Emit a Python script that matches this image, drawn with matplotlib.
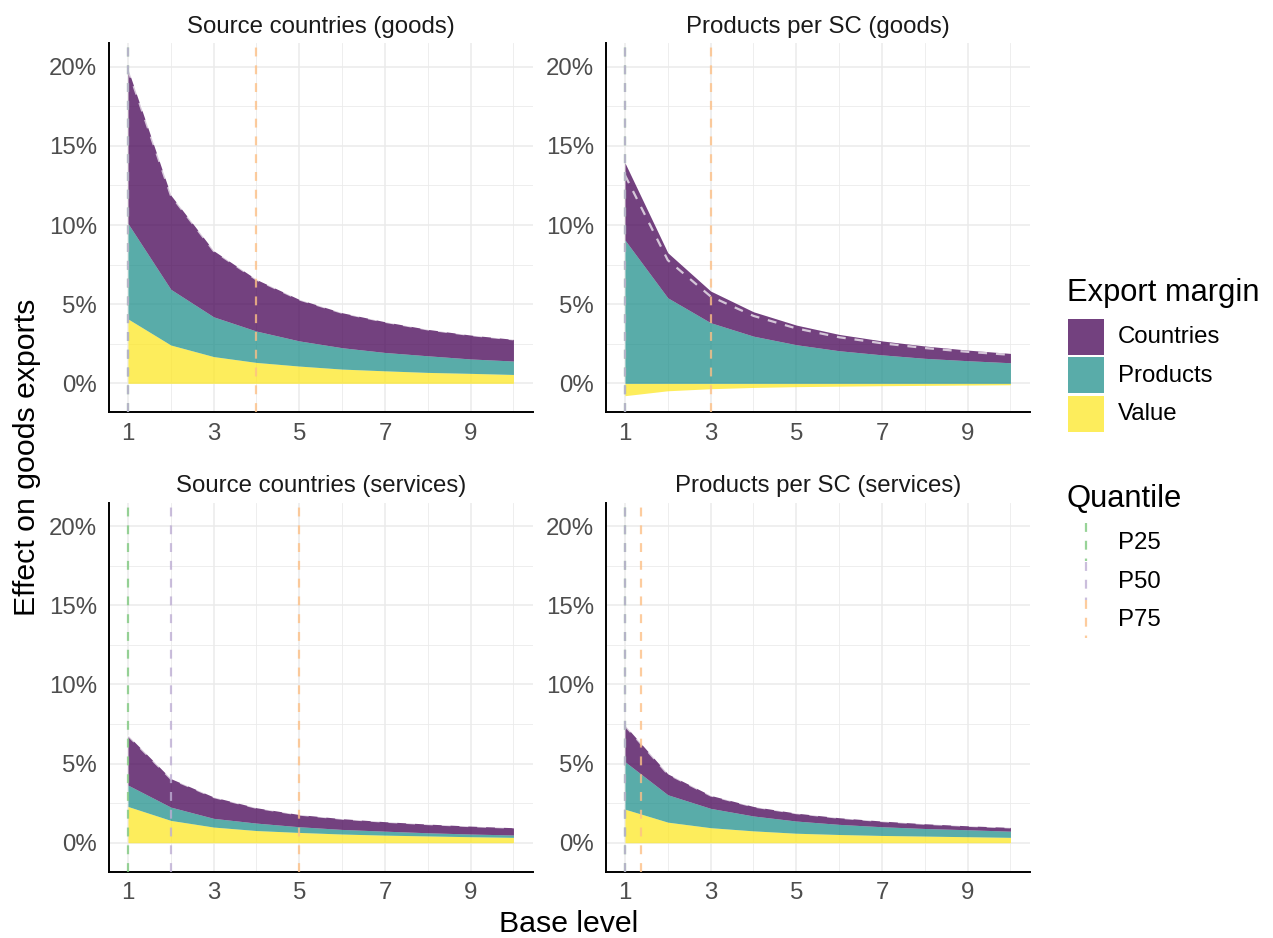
import numpy as np
import matplotlib
matplotlib.use("Agg")
import matplotlib.pyplot as plt
from matplotlib.patches import Rectangle
from matplotlib.lines import Line2D

plt.rcParams['font.family'] = ['Liberation Sans', 'DejaVu Sans']

# ---------------- data ----------------
base_level = [1, 2, 3, 4, 5, 6, 7, 8, 9, 10]

panel_titles = ["Source countries (goods)", "Products per SC (goods)",
                "Source countries (services)", "Products per SC (services)"]

# contributions (in %) of each export margin
value_sc_goods = [4.07, 2.42, 1.69, 1.32, 1.09, 0.90, 0.79, 0.69, 0.63, 0.56]
products_sc_goods = [6.03, 3.52, 2.51, 1.98, 1.59, 1.35, 1.16, 1.05, 0.91, 0.85]
countries_sc_goods = [9.74, 5.95, 4.18, 3.26, 2.62, 2.21, 1.94, 1.67, 1.51, 1.37]

value_pp_goods = [-0.78, -0.47, -0.34, -0.26, -0.21, -0.18, -0.15, -0.13, -0.11, -0.09]
products_pp_goods = [9.05, 5.40, 3.83, 2.98, 2.44, 2.06, 1.80, 1.58, 1.43, 1.30]
countries_pp_goods = [4.88, 2.85, 2.00, 1.54, 1.24, 1.03, 0.88, 0.78, 0.67, 0.59]

value_sc_serv = [2.29, 1.41, 0.99, 0.77, 0.65, 0.55, 0.48, 0.43, 0.38, 0.34]
products_sc_serv = [1.35, 0.84, 0.55, 0.47, 0.36, 0.29, 0.25, 0.20, 0.17, 0.15]
countries_sc_serv = [3.14, 1.80, 1.35, 0.97, 0.77, 0.68, 0.60, 0.55, 0.50, 0.46]

value_pp_serv = [2.12, 1.30, 0.95, 0.75, 0.60, 0.52, 0.46, 0.42, 0.38, 0.34]
products_pp_serv = [3.00, 1.73, 1.22, 0.94, 0.77, 0.64, 0.55, 0.48, 0.44, 0.39]
countries_pp_serv = [2.29, 1.32, 0.82, 0.60, 0.50, 0.42, 0.36, 0.30, 0.25, 0.24]

# quantiles (P25, P50, P75) of the base level per panel
quant_sc_goods = [1, 1, 4]
quant_pp_goods = [1, 1, 3]
quant_sc_serv = [1, 2, 5]
quant_pp_serv = [1, 1, 1.37]

margin_labels = ["Countries", "Products", "Value"]
quantile_labels = ["P25", "P50", "P75"]

x_ticks = [1, 3, 5, 7, 9]
y_ticks = [0, 5, 10, 15, 20]
y_tick_labels = ["0%", "5%", "10%", "15%", "20%"]

# ---------------- styles ----------------
margin_colors = {"Countries": "#440154", "Products": "#21908C", "Value": "#FDE725"}
quant_colors = ["#7FC97F", "#BEAED4", "#FDC086"]
AREA_ALPHA = 0.75
W, H = 1273, 938

panels = [
    (value_sc_goods, products_sc_goods, countries_sc_goods, quant_sc_goods),
    (value_pp_goods, products_pp_goods, countries_pp_goods, quant_pp_goods),
    (value_sc_serv, products_sc_serv, countries_sc_serv, quant_sc_serv),
    (value_pp_serv, products_pp_serv, countries_pp_serv, quant_pp_serv),
]

# panel rectangles in pixels: left, top, right, bottom
panel_px = [
    (108.7, 43.3, 532.7, 412.3),
    (605.7, 43.3, 1029.7, 412.3),
    (108.7, 502.7, 532.7, 871.7),
    (605.7, 502.7, 1029.7, 871.7),
]

fig = plt.figure(figsize=(W / 100, H / 100), dpi=100)

def px_rect(l, t, r, b):
    return [l / W, 1 - b / H, (r - l) / W, (b - t) / H]

for (vals, prods, ctrs, quants), (l, t, r, b), title in zip(panels, panel_px, panel_titles):
    ax = fig.add_axes(px_rect(l, t, r, b))
    x = np.array(base_level, dtype=float)
    pos_base = np.zeros_like(x)
    neg_base = np.zeros_like(x)
    layers = [("Value", np.array(vals)), ("Products", np.array(prods)), ("Countries", np.array(ctrs))]
    for name, v in layers:
        pos = v >= 0
        lo = np.where(pos, pos_base, neg_base + v)
        hi = np.where(pos, pos_base + v, neg_base)
        ax.fill_between(x, lo, hi, color=margin_colors[name], alpha=AREA_ALPHA,
                        linewidth=0, zorder=2)
        pos_base = np.where(pos, pos_base + v, pos_base)
        neg_base = np.where(pos, neg_base, neg_base + v)
    total = np.array(vals) + np.array(prods) + np.array(ctrs)
    ax.plot(x, total, color="white", alpha=0.7, lw=1.6, dashes=(4, 4), zorder=3)
    for q, c in zip(quants, quant_colors):
        ax.axvline(q, color=c, alpha=0.8, lw=1.6, dashes=(4, 4), zorder=4)

    ax.set_xlim(0.55, 10.45)
    ax.set_ylim(-1.83, 21.48)
    ax.set_xticks(x_ticks)
    ax.set_xticks([2, 4, 6, 8, 10], minor=True)
    ax.set_yticks(y_ticks)
    ax.set_yticklabels(y_tick_labels)
    ax.set_yticks([2.5, 7.5, 12.5, 17.5], minor=True)
    ax.grid(True, which="major", color="#ebebeb", lw=1.1, zorder=0)
    ax.grid(True, which="minor", color="#ebebeb", lw=0.6, zorder=0)
    ax.set_axisbelow(True)
    ax.tick_params(which="both", length=0, labelsize=17.3, labelcolor="#4d4d4d")
    ax.tick_params(axis="x", pad=7.5)
    ax.tick_params(axis="y", pad=8.5)
    for s in ["top", "right"]:
        ax.spines[s].set_visible(False)
    for s in ["left", "bottom"]:
        ax.spines[s].set_linewidth(1.4)
        ax.spines[s].set_color("black")
    ax.set_facecolor("white")
    ax.text(0.5, 1 + 10.6 / (b - t), title, transform=ax.transAxes, ha="center",
            va="baseline", fontsize=17.3, color="#1a1a1a")

# axis titles
fig.text(569 / W, 1 - 932 / H, "Base level", ha="center", va="baseline", fontsize=21.8)
fig.text(27 / W, 1 - 457 / H, "Effect on goods exports", ha="center", va="center",
         rotation=90, fontsize=21.8)

# ---------------- legends (overlay in pixel coords) ----------------
lax = fig.add_axes([0, 0, 1, 1], zorder=10)
lax.set_xlim(0, W)
lax.set_ylim(H, 0)
lax.axis("off")
lax.patch.set_alpha(0)

lax.text(1067, 301, "Export margin", fontsize=22.2, ha="left", va="baseline")
key_tops = [319, 357.5, 396]
for name, kt in zip(margin_labels, key_tops):
    lax.add_patch(Rectangle((1068, kt), 36, 36, facecolor=margin_colors[name],
                            alpha=AREA_ALPHA, edgecolor="none"))
    lax.text(1118, kt + 18, name, fontsize=17.3, ha="left", va="center")

lax.text(1067, 507, "Quantile", fontsize=22.2, ha="left", va="baseline")
q_tops = [523, 562, 600]
for lab, c, qt in zip(quantile_labels, quant_colors, q_tops):
    lax.add_line(Line2D([1086, 1086], [qt, qt + 38], color=c, alpha=0.8, lw=1.6,
                        dashes=(4, 4)))
    lax.text(1118, qt + 20, lab, fontsize=17.3, ha="left", va="center")

fig.savefig("out.png", dpi=100, facecolor="white")
